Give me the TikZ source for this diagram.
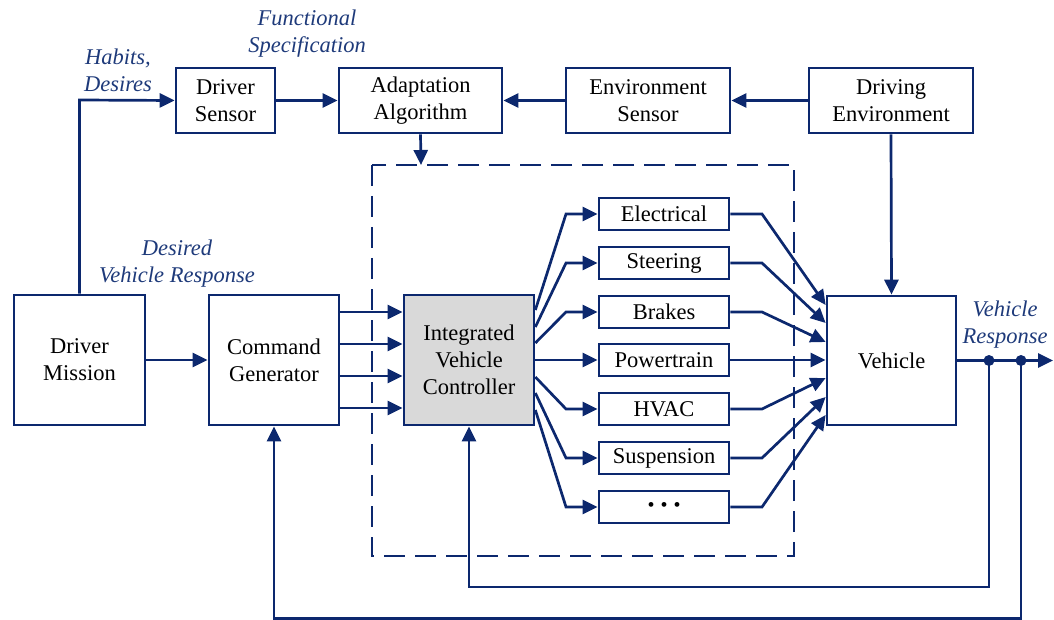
\documentclass[tikz,border=0pt]{standalone}
\usepackage{fontspec}
\setmainfont{Liberation Serif}
\usetikzlibrary{arrows.meta,calc}
\definecolor{navy}{RGB}{12,40,110}
\definecolor{lblue}{RGB}{30,58,122}
\definecolor{ivcgray}{RGB}{217,217,217}
\tikzset{
  boxnode/.style={draw=navy, line width=2.7pt, inner sep=0pt, align=center,
     text=black, font=\fontsize{22.5}{27}\selectfont},
  bigbox/.style={boxnode, minimum width=130pt, minimum height=130pt},
  topbox/.style={boxnode, minimum height=65pt},
  subbox/.style={boxnode, minimum width=130pt, minimum height=32pt},
  conn/.style={draw=navy, line width=2.7pt},
  arr/.style={conn, -{Triangle[length=15pt,width=14pt]}},
  lbl/.style={text=lblue, align=center, inner sep=0pt,
     font=\fontsize{22.5}{27}\selectfont\itshape},
  dashbox/.style={draw=navy, line width=2.7pt, dash pattern=on 21pt off 10pt},
  jdot/.style={circle, fill=navy, inner sep=0pt, minimum size=11pt}
}
\begin{document}
\begin{tikzpicture}[x=1pt,y=-1pt]
\useasboundingbox (0,0) rectangle (1054,620);
% dashed enclosure
\draw[dashbox] (372,165) rectangle (794,556);
% top row
\node[topbox, minimum width=99pt] (ds) at (225.5,100.5) {Driver\\Sensor};
\node[topbox, minimum width=163pt] (aa) at (420.5,100.5) {Adaptation\\Algorithm};
\node[topbox, minimum width=164pt] (es) at (648,100.5) {Environment\\Sensor};
\node[topbox, minimum width=164pt] (de) at (891,100.5) {Driving\\Environment};
% main row
\node[bigbox, minimum width=131pt] (dm) at (79.5,360) {Driver\\Mission};
\node[bigbox] (cg) at (274,360) {Command\\Generator};
\node[bigbox, fill=ivcgray] (ivc) at (469,360) {Integrated\\Vehicle\\Controller};
\node[bigbox, minimum width=129pt, minimum height=129pt] (veh) at (891.5,360.5) {Vehicle};
% subsystems
\node[subbox] (s1) at (664,214) {Electrical};
\node[subbox] (s2) at (664,263) {Steering};
\node[subbox] (s3) at (664,312) {Brakes};
\node[subbox] (s4) at (664,360) {Powertrain};
\node[subbox] (s5) at (664,409) {HVAC};
\node[subbox] (s6) at (664,458) {Suspension};
\node[subbox] (s7) at (664,507) {{\fontsize{20}{20}\selectfont\textbullet\hspace{6pt}\textbullet\hspace{6pt}\textbullet}};
% labels
\node[lbl] (lfs) at (307,34) {Functional\\Specification};
\node[lbl] (lhd) at (118,70) {Habits,\\Desires};
\node[lbl] (ldv) at (177,264) {Desired\\Vehicle Response};
\node[lbl] (lvr) at (1005,325) {Vehicle\\Response};
% top connections
\coordinate (hk) at (79,100);
\draw[arr] (dm.north) -- (dm.north |- hk) -- (ds.west);
\draw[arr] (ds.east) -- (aa.west);
\draw[arr] (es.west) -- (aa.east);
\draw[arr] (de.west) -- (es.east);
\coordinate (dtop) at (421,165);
\draw[arr] (aa.south) -- (dtop);
\draw[arr] (de.south) -- (veh.north);
% main row connections
\draw[arr] (dm.east) -- (cg.west);
\foreach \yy in {312,344,376,408}{
  \coordinate (cy) at (0,\yy);
  \draw[arr] (cg.east |- cy) -- (ivc.west |- cy);
}
% fan out from IVC
\foreach \s/\ys in {s1/310,s2/327,s3/343,s4/360,s5/377,s6/393,s7/410}{
  \coordinate (fy) at (0,\ys);
  \coordinate (fk) at (566,0);
  \draw[arr] (ivc.east |- fy) -- (fk |- \s.west) -- (\s.west);
}
% fan in to vehicle
\foreach \s/\ys in {s1/305,s2/323,s3/342,s4/360,s5/378,s6/397,s7/415}{
  \coordinate (gy) at (0,\ys);
  \coordinate (gk) at (762,0);
  \draw[arr] (\s.east) -- (gk |- \s.east) -- (veh.west |- gy);
}
% output and feedback
\node[jdot] (j1) at (989,360.5) {};
\node[jdot] (j2) at (1021,360.5) {};
\coordinate (out) at (1053,360.5);
\draw[arr] (veh.east) -- (out);
\coordinate (b1) at (0,587);
\coordinate (b2) at (0,618.5);
\draw[arr] (j1.center) -- (j1 |- b1) -- (ivc.south |- b1) -- (ivc.south);
\draw[arr] (j2.center) -- (j2 |- b2) -- (cg.south |- b2) -- (cg.south);
\end{tikzpicture}
\end{document}
